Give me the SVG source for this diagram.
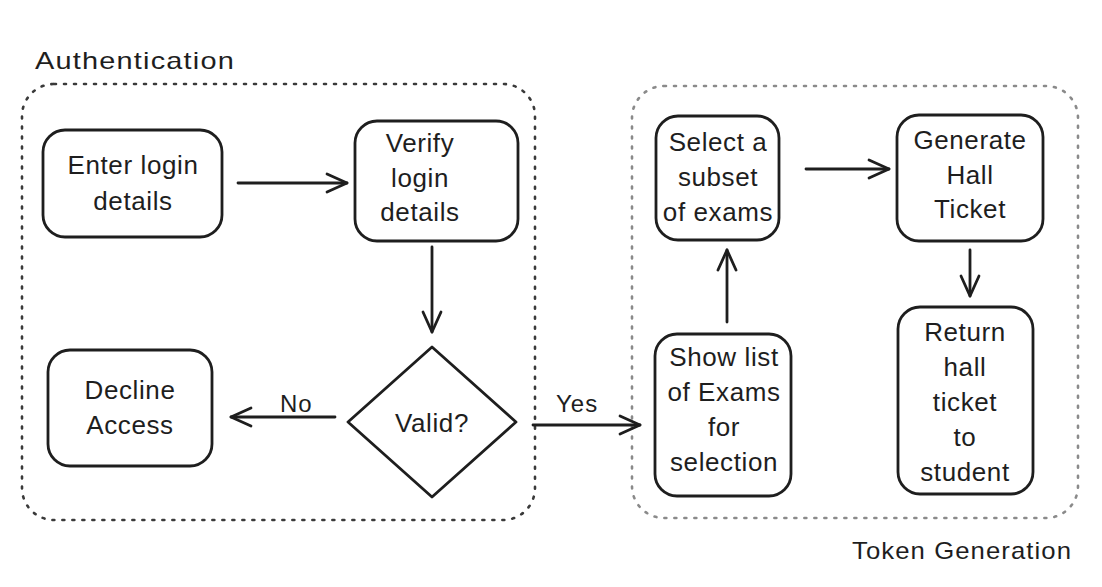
<svg xmlns="http://www.w3.org/2000/svg" width="1102" height="587" viewBox="0 0 1102 587">
<style>
.node{fill:none;stroke:#1e1e1e;stroke-width:2.8;stroke-linejoin:round}
.t{font-family:"Liberation Sans","DejaVu Sans",sans-serif;font-size:26px;letter-spacing:0.6px;fill:#1e1e1e;text-anchor:middle;dominant-baseline:central}
.lbl{font-family:"Liberation Sans","DejaVu Sans",sans-serif;font-size:24px;letter-spacing:1px;fill:#1e1e1e}
.edge{fill:none;stroke:#1e1e1e;stroke-width:2.8;stroke-linecap:round}
.grp{fill:none;stroke-width:2.6;stroke-dasharray:2 8;stroke-linecap:round}
</style>
<defs>
<marker id="ah" viewBox="0 0 24 24" refX="22" refY="12" markerWidth="24" markerHeight="24" markerUnits="userSpaceOnUse" orient="auto">
<path d="M2 3 L22 12 L2 21" fill="none" stroke="#1e1e1e" stroke-width="2.8" stroke-linecap="round" stroke-linejoin="round"/>
</marker>
</defs>
<rect x="0" y="0" width="1102" height="587" fill="#ffffff"/>
<g id="auth-group">
<rect class="grp" x="22" y="84" width="513" height="436" rx="32" stroke="#3a3a3a"/>
<text class="lbl" x="35" y="69" textLength="200" lengthAdjust="spacingAndGlyphs">Authentication</text>
</g>
<g id="token-group">
<rect class="grp" x="632" y="86" width="446" height="432" rx="32" stroke="#8a8a8a"/>
<text class="lbl" x="852" y="559" textLength="220" lengthAdjust="spacingAndGlyphs">Token Generation</text>
</g>
<g id="connectors">
<line class="edge" x1="238" y1="183" x2="347" y2="183" marker-end="url(#ah)"/>
<line class="edge" x1="432" y1="247" x2="432" y2="332" marker-end="url(#ah)"/>
<line class="edge" x1="335" y1="417" x2="231" y2="417" marker-end="url(#ah)"/>
<text class="lbl" x="280" y="412">No</text>
<line class="edge" x1="533" y1="425" x2="640" y2="425" marker-end="url(#ah)"/>
<text class="lbl" x="556" y="412">Yes</text>
<line class="edge" x1="727" y1="322" x2="727" y2="250" marker-end="url(#ah)"/>
<line class="edge" x1="806" y1="169" x2="889" y2="169" marker-end="url(#ah)"/>
<line class="edge" x1="970" y1="250" x2="970" y2="296" marker-end="url(#ah)"/>
</g>
<g id="enter-login">
<rect class="node" x="43" y="130" width="179" height="107" rx="22"/>
<text class="t" x="133" y="165">Enter login</text>
<text class="t" x="133" y="201">details</text>
</g>
<g id="verify-login">
<rect class="node" x="355" y="121" width="163" height="120" rx="22"/>
<text class="t" x="420" y="143">Verify</text>
<text class="t" x="420" y="178">login</text>
<text class="t" x="420" y="212">details</text>
</g>
<g id="valid">
<path class="node" d="M432 347 L516 422 L432 497 L348 422 Z"/>
<text class="t" x="432" y="423">Valid?</text>
</g>
<g id="decline-access">
<rect class="node" x="48" y="350" width="164" height="116" rx="22"/>
<text class="t" x="130" y="390">Decline</text>
<text class="t" x="130" y="425">Access</text>
</g>
<g id="select-subset">
<rect class="node" x="656" y="116" width="123" height="124" rx="22"/>
<text class="t" x="718" y="142">Select a</text>
<text class="t" x="718" y="177">subset</text>
<text class="t" x="718" y="212">of exams</text>
</g>
<g id="generate-ticket">
<rect class="node" x="897" y="115" width="146" height="126" rx="22"/>
<text class="t" x="970" y="140">Generate</text>
<text class="t" x="970" y="175">Hall</text>
<text class="t" x="970" y="209">Ticket</text>
</g>
<g id="show-list">
<rect class="node" x="655" y="334" width="136" height="162" rx="22"/>
<text class="t" x="724" y="357">Show list</text>
<text class="t" x="724" y="392">of Exams</text>
<text class="t" x="724" y="427">for</text>
<text class="t" x="724" y="462">selection</text>
</g>
<g id="return-ticket">
<rect class="node" x="898" y="307" width="135" height="187" rx="22"/>
<text class="t" x="965" y="332">Return</text>
<text class="t" x="965" y="367">hall</text>
<text class="t" x="965" y="402">ticket</text>
<text class="t" x="965" y="437">to</text>
<text class="t" x="965" y="472">student</text>
</g>
</svg>
